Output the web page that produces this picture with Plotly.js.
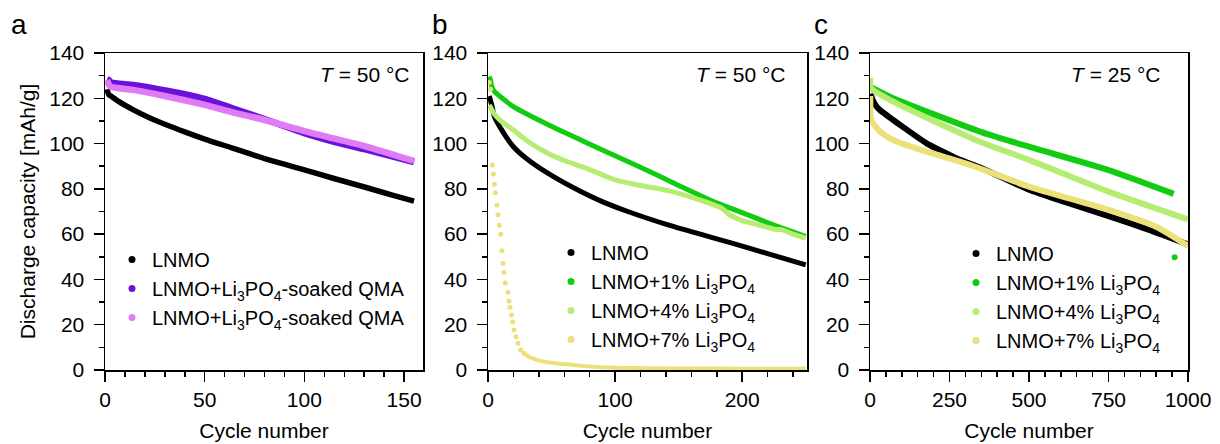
<!DOCTYPE html>
<html>
<head>
<meta charset="utf-8">
<script src="https://cdn.plot.ly/plotly-3.0.1.min.js"></script>
<style>
html,body{margin:0;padding:0;background:#fff;}
#chart{width:1220px;height:444px;}
</style>
</head>
<body>
<div id="chart"></div>
<script>
// ---------- Panel a (T = 50 °C) ----------
const aLNMO_x   = [1, 2, 3, 7, 14, 22, 31, 40, 50, 64, 81, 100, 114, 131, 145, 155];
const aLNMO_y   = [124, 121.5, 121, 118.5, 115, 111.5, 108.2, 105.2, 102, 98, 93.1, 88.4, 84.8, 80.6, 77, 74.6];
const aSoak1_x  = [1, 2, 3, 14, 31, 40, 50, 64, 81, 100, 114, 131, 155];
const aSoak1_y  = [128.5, 128, 127, 125.9, 123.4, 121.8, 119.7, 115.6, 110.5, 104.6, 101, 97.3, 91.8];
const aSoak2_x  = [1, 2, 3, 14, 31, 50, 64, 81, 100, 114, 131, 155];
const aSoak2_y  = [128, 126, 125, 123.7, 120.8, 117.1, 113.8, 110.2, 105.5, 102.4, 98.7, 92.3];

// ---------- Panel b (T = 50 °C) ----------
const bLNMO_x   = [1, 2, 3, 5, 10, 20, 30, 47, 73, 89, 110, 141, 165, 192, 220, 250];
const bLNMO_y   = [121, 119, 117, 112, 106.7, 98.6, 93.5, 86.9, 78.8, 74.6, 70, 64.2, 60.3, 56, 51.4, 46.4];
const b1_x      = [1, 2, 3, 5, 20, 47, 81, 100, 125, 150, 175, 200, 225, 250];
const b1_y      = [129.6, 128, 125, 123, 116.3, 108.4, 99.5, 94.6, 88.2, 81.5, 75, 69.5, 64, 59];
const b4_x      = [1, 3, 5, 10, 20, 30, 47, 60, 81, 100, 120, 141, 167, 184, 190, 200, 210, 226, 231, 240, 250];
const b4_y      = [117, 115, 113, 110, 106, 101.5, 95.7, 92.5, 88.3, 84, 81.5, 79.3, 75, 71.4, 68.5, 66, 64.5, 62.1, 62, 60, 58.2];
const b7dots_x  = [1, 2, 3.4, 4.2, 5, 5.8, 7.1, 7.9, 8.9, 10, 11, 11.8, 12.6, 13.6, 15.7, 16.5, 17.3, 18.4, 19.4, 20.5, 22, 23.6, 25.7, 28.3];
const b7dots_y  = [127, 124, 90.5, 86.6, 82, 78.3, 72.9, 68.6, 63.9, 59.9, 52.7, 47.1, 43.1, 38.4, 34.3, 30.5, 27.7, 24.3, 21.3, 17.7, 14.7, 11.8, 8.8, 7.4];
const b7tail_x  = [28.3, 32.3, 36.2, 44, 54.6, 67.7, 80.8, 100, 150, 200, 250];
const b7tail_y  = [7.4, 5.9, 4.9, 3.7, 2.9, 2.2, 1.5, 1.0, 0.7, 0.6, 0.5];

// ---------- Panel c (T = 25 °C) ----------
const cLNMO_x   = [1, 5, 10, 20, 31, 73, 100, 178, 250, 283, 346, 400, 500, 600, 750, 875, 1000];
const cLNMO_y   = [122, 120.5, 118.8, 116.5, 114.8, 110.4, 107.7, 100.1, 95, 92.8, 89.4, 86, 79.6, 74.8, 68, 62, 55.5];
const c1_x      = [1, 73, 346, 500, 750, 955];
const c1_y      = [125, 120, 105.3, 98.6, 88.3, 77.8];
const c1out_x   = [958];
const c1out_y   = [49.8];
const c4_x      = [1, 3, 73, 346, 500, 750, 1000];
const c4_y      = [129, 124.5, 118.5, 100.8, 92.8, 78.8, 66.5];
const c7_x      = [1, 3, 10, 31, 73, 178, 283, 346, 500, 750, 900, 1000];
const c7_y      = [121, 111, 109, 105.3, 101.6, 96.4, 92, 89, 81, 70.7, 63.3, 54.8];

// ---------- labels ----------
const panelLetters = ['a', 'b', 'c'];
const tempLabels = ['<i>T</i> = 50 °C', '<i>T</i> = 50 °C', '<i>T</i> = 25 °C'];
const namesA = ['LNMO', 'LNMO+Li<sub>3</sub>PO<sub>4</sub>-soaked QMA', 'LNMO+Li<sub>3</sub>PO<sub>4</sub>-soaked QMA'];
const namesBC = ['LNMO', 'LNMO+1% Li<sub>3</sub>PO<sub>4</sub>', 'LNMO+4% Li<sub>3</sub>PO<sub>4</sub>', 'LNMO+7% Li<sub>3</sub>PO<sub>4</sub>'];
const colA = ['#000000', '#6a12dc', '#df7cf5'];
const colBC = ['#000000', '#12cc12', '#b7ec72', '#ebe07a'];

const FONT = 'Arial, "Liberation Sans", sans-serif';
const W = 1220, H = 444;

function line(x, y, color, ax, width) {
  return {x: x, y: y, type: 'scatter', mode: 'lines', xaxis: 'x' + ax, yaxis: 'y' + ax,
          line: {color: color, width: width, shape: 'spline', smoothing: 0.6}, showlegend: false, hoverinfo: 'skip'};
}
function dots(x, y, color, ax, size) {
  return {x: x, y: y, type: 'scatter', mode: 'markers', xaxis: 'x' + ax, yaxis: 'y' + ax,
          marker: {color: color, size: size}, showlegend: false, hoverinfo: 'skip'};
}
function legendItem(name, color, ax, leg) {
  return {x: [null], y: [null], type: 'scatter', mode: 'markers', xaxis: 'x' + ax, yaxis: 'y' + ax,
          name: name, legend: leg, marker: {color: color, size: 7}, showlegend: true};
}

const traces = [
  line(aLNMO_x, aLNMO_y, colA[0], '', 5.5),
  line(aSoak1_x, aSoak1_y, colA[1], '', 6.5),
  line(aSoak2_x, aSoak2_y, colA[2], '', 6.5),
  legendItem(namesA[0], colA[0], '', 'legend'),
  legendItem(namesA[1], colA[1], '', 'legend'),
  legendItem(namesA[2], colA[2], '', 'legend'),

  line(bLNMO_x, bLNMO_y, colBC[0], '2', 5),
  line(b1_x, b1_y, colBC[1], '2', 5),
  line(b4_x, b4_y, colBC[2], '2', 5),
  dots(b7dots_x, b7dots_y, colBC[3], '2', 5),
  line(b7tail_x, b7tail_y, colBC[3], '2', 4),
  legendItem(namesBC[0], colBC[0], '2', 'legend2'),
  legendItem(namesBC[1], colBC[1], '2', 'legend2'),
  legendItem(namesBC[2], colBC[2], '2', 'legend2'),
  legendItem(namesBC[3], colBC[3], '2', 'legend2'),

  line(cLNMO_x, cLNMO_y, colBC[0], '3', 6),
  line(c1_x, c1_y, colBC[1], '3', 6),
  dots(c1out_x, c1out_y, colBC[1], '3', 6),
  line(c4_x, c4_y, colBC[2], '3', 6),
  line(c7_x, c7_y, colBC[3], '3', 6),
  legendItem(namesBC[0], colBC[0], '3', 'legend3'),
  legendItem(namesBC[1], colBC[1], '3', 'legend3'),
  legendItem(namesBC[2], colBC[2], '3', 'legend3'),
  legendItem(namesBC[3], colBC[3], '3', 'legend3')
];

const yDom = [1 - 370 / H, 1 - 53 / H];
function xax(domPx, range, dtick, minorDtick) {
  return {domain: [domPx[0] / W, domPx[1] / W], range: range, dtick: dtick, tick0: 0,
          ticks: 'outside', ticklen: 10, tickwidth: 1.5, tickcolor: '#000',
          minor: {dtick: minorDtick, ticks: 'outside', ticklen: 5, tickwidth: 1.5, tickcolor: '#000', showgrid: false},
          showline: true, linewidth: 1.5, linecolor: '#000', mirror: true, showgrid: false, zeroline: false,
          tickfont: {size: 21, color: '#000', family: FONT}, fixedrange: true,
          title: {text: 'Cycle number', font: {size: 21, color: '#000', family: FONT}, standoff: 13}};
}
function yax(anchor) {
  return {domain: yDom, range: [0, 140], dtick: 20, tick0: 0, anchor: anchor,
          ticks: 'outside', ticklen: 10, tickwidth: 1.5, tickcolor: '#000', ticklabelstandoff: 5,
          minor: {dtick: 10, ticks: 'outside', ticklen: 5, tickwidth: 1.5, tickcolor: '#000', showgrid: false},
          showline: true, linewidth: 1.5, linecolor: '#000', mirror: true, showgrid: false, zeroline: false,
          tickfont: {size: 21, color: '#000', family: FONT}, fixedrange: true};
}

const legBase = {bgcolor: 'rgba(0,0,0,0)', borderwidth: 0, xanchor: 'left', yanchor: 'top',
                 font: {size: 20, color: '#000', family: FONT}, tracegroupgap: 0, itemwidth: 30};

const ann = [];
const letterX = [19, 440, 821];
const tempRight = [412, 788, 1163];
for (let i = 0; i < 3; i++) {
  ann.push({text: panelLetters[i], xref: 'paper', yref: 'paper', x: letterX[i] / W, y: 1 - 25 / H,
            xanchor: 'center', yanchor: 'middle', showarrow: false, font: {size: 28, color: '#000', family: FONT}});
  ann.push({text: tempLabels[i], xref: 'paper', yref: 'paper', x: tempRight[i] / W, y: 1 - 75 / H,
            xanchor: 'right', yanchor: 'middle', showarrow: false, font: {size: 21, color: '#000', family: FONT}});
}

const yA = yax('x');
yA.title = {text: 'Discharge capacity [mAh/g]', font: {size: 21, color: '#000', family: FONT}, standoff: 8};

const layout = {
  width: W, height: H, margin: {l: 0, r: 0, t: 0, b: 0}, paper_bgcolor: '#fff', plot_bgcolor: '#fff',
  font: {family: FONT, color: '#000'},
  xaxis: xax([105, 423], [0, 159.5], 50, 10),
  xaxis2: Object.assign(xax([488, 807], [0, 251], 100, 20), {anchor: 'y2'}),
  xaxis3: Object.assign(xax([870, 1188], [0, 1000], 250, 50), {anchor: 'y3'}),
  yaxis: yA,
  yaxis2: yax('x2'),
  yaxis3: yax('x3'),
  legend: Object.assign({}, legBase, {x: 112 / W, y: 1 - 240 / H}),
  legend2: Object.assign({}, legBase, {x: 551 / W, y: 1 - 233 / H}),
  legend3: Object.assign({}, legBase, {x: 956 / W, y: 1 - 234 / H}),
  annotations: ann,
  showlegend: true
};

Plotly.newPlot('chart', traces, layout, {staticPlot: true, displayModeBar: false});
</script>
</body>
</html>
